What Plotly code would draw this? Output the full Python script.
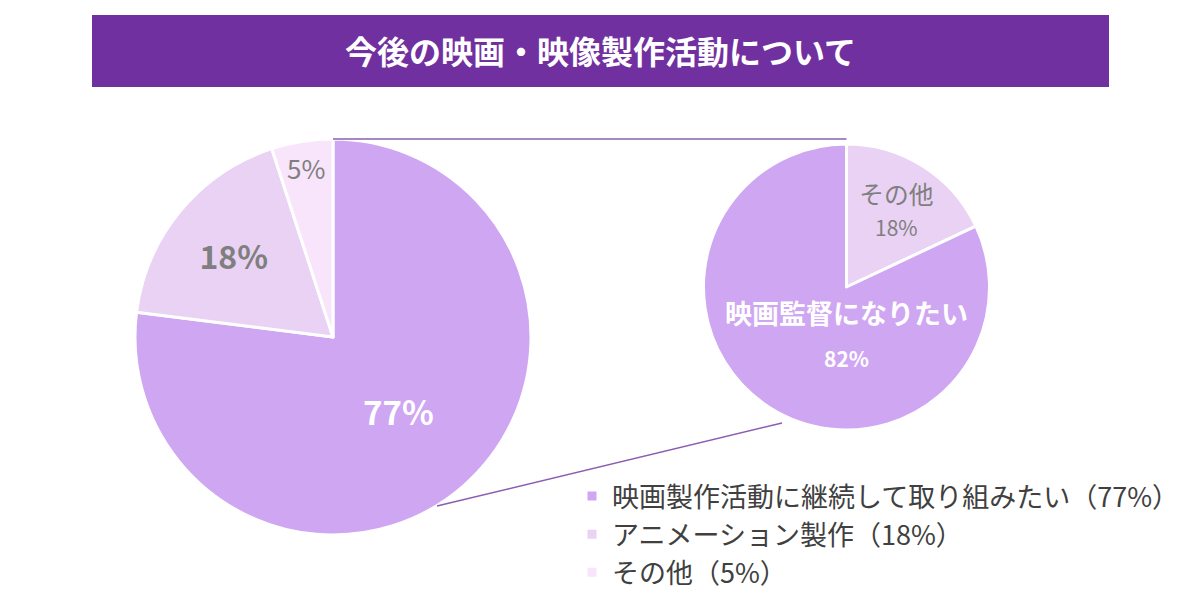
import plotly.graph_objects as go

# data
main_labels = ["映画製作活動に継続して取り組みたい", "アニメーション製作", "その他"]
main_values = [77, 18, 5]
sub_labels = ["その他", "映画監督になりたい"]
sub_values = [18, 82]

W, H = 1200, 611
purple = "#7030a0"
lilac = ["#cfa6f2", "#e9d2f3", "#f8e4fb"]


def px(x):
    return x / W


def py(y):
    return 1 - y / H


# pie geometry in pixels (center x, center y, radius)
left = (333, 337, 198)
right = (846.5, 287, 143)

legend_names = ["%s（%d%%）" % (l, v) for l, v in zip(main_labels, main_values)]
main_text = ["<b>%d%%</b>" % main_values[0], "<b>%d%%</b>" % main_values[1], "%d%%" % main_values[2]]
sub_text = ["%s<br><span style='font-size:22px'>%d%%</span>" % (sub_labels[0], sub_values[0]),
            "<b><span style='font-size:27px'>%s</span><br><span style='font-size:21px'>%d%%</span></b>"
            % (sub_labels[1], sub_values[1])]

fig = go.Figure()
fig.add_trace(go.Pie(
    labels=legend_names, values=main_values, sort=False, direction="clockwise", rotation=0,
    text=main_text, textinfo="text", textposition="inside", insidetextorientation="horizontal",
    insidetextfont=dict(size=[33, 32, 26], color=["white", "#7f7f7f", "#7f7f7f"],
                        family="Noto Sans CJK JP"),
    marker=dict(colors=lilac, line=dict(color="white", width=3)),
    domain=dict(x=[px(left[0] - left[2]), px(left[0] + left[2])],
                y=[py(left[1] + left[2]), py(left[1] - left[2])]),
    hoverinfo="label+percent",
))
fig.add_trace(go.Pie(
    labels=sub_labels, values=sub_values, sort=False, direction="clockwise", rotation=0,
    text=sub_text, textinfo="text", textposition="inside", insidetextorientation="horizontal",
    insidetextfont=dict(size=[26, 33], color=["#7f7f7f", "white"], family="Noto Sans CJK JP"),
    marker=dict(colors=[lilac[1], lilac[0]], line=dict(color="white", width=3)),
    domain=dict(x=[px(right[0] - right[2]), px(right[0] + right[2])],
                y=[py(right[1] + right[2]), py(right[1] - right[2])]),
    showlegend=False, hoverinfo="label+percent",
))

shapes = [
    # title band
    dict(type="rect", xref="paper", yref="paper", x0=px(92), x1=px(1109), y0=py(87), y1=py(15),
         fillcolor=purple, line=dict(width=0), layer="below"),
    # connector from top of main pie to top of sub pie
    dict(type="line", xref="paper", yref="paper",
         x0=px(left[0]), y0=py(left[1] - left[2]), x1=px(right[0]), y1=py(left[1] - left[2]),
         line=dict(color="#a888c2", width=2)),
    # connector from bottom of main pie to bottom of sub pie
    dict(type="line", xref="paper", yref="paper",
         x0=px(437), y0=py(506), x1=px(782), y1=py(423),
         line=dict(color="#8c5cb0", width=1.5)),
]

fig.update_layout(
    width=W, height=H, autosize=False,
    margin=dict(l=0, r=0, t=0, b=0),
    paper_bgcolor="white", plot_bgcolor="white",
    font=dict(family="Noto Sans CJK JP", color="#404040"),
    shapes=shapes,
    annotations=[dict(text="<b>今後の映画・映像製作活動について</b>", xref="paper", yref="paper",
                      x=px(600), y=py(50), xanchor="center", yanchor="middle", showarrow=False,
                      font=dict(size=32, color="white", family="Noto Sans CJK JP"))],
    legend=dict(x=px(572), y=py(472), xanchor="left", yanchor="top",
                font=dict(size=27, color="#404040"), bgcolor="rgba(0,0,0,0)"),
)

# drop the default page margin so the figure sits at the window's corner
fig.write_html("out.html", config=dict(displayModeBar=False),
               post_script="document.body.style.margin='0';")
